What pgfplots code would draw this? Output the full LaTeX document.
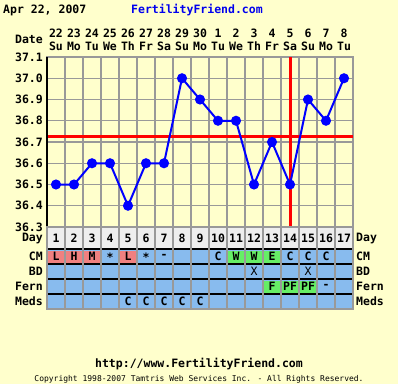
\documentclass[border=0pt]{standalone}
\usepackage{pgfplots}
\pgfplotsset{compat=1.18}
\usepackage{fontspec}
\newfontfamily\mono{DejaVu Sans Mono}
\definecolor{bg}{HTML}{FFFFCC}
\definecolor{gridc}{HTML}{999999}
\definecolor{dayrow}{HTML}{EEEEEE}
\definecolor{rowblue}{HTML}{88BBEE}
\definecolor{pinkc}{HTML}{F08080}
\definecolor{greenc}{HTML}{66EE66}
\definecolor{lineblue}{HTML}{0000FF}
\definecolor{titleblue}{HTML}{0000EE}
\newcommand{\bigf}{\mono\bfseries\fontsize{11.5bp}{12bp}\selectfont}
\newcommand{\smallf}{\mono\fontsize{8bp}{9bp}\selectfont}
\begin{document}
\begin{tikzpicture}
\fill[bg] (0,0) rectangle (398bp,-384bp);
% main temperature chart
\begin{axis}[at={(200bp,-142bp)}, anchor=center, scale only axis,
  width=306bp, height=170bp,
  xmin=0.5, xmax=17.5, ymin=36.3, ymax=37.1,
  xtick={1.5,2.5,3.5,4.5,5.5,6.5,7.5,8.5,9.5,10.5,11.5,12.5,13.5,14.5,15.5,16.5},
  xticklabels={},
  ytick={36.3,36.4,36.5,36.6,36.7,36.8,36.9,37.0,37.1},
  yticklabel style={font=\bigf, anchor=east, inner sep=0pt, xshift=-4bp,
    /pgf/number format/.cd, fixed, fixed zerofill, precision=1, assume math mode=true},
  grid=major, major grid style={gridc, line width=1.2bp},
  major tick length=0pt,
  axis line style={draw=gridc, line width=1.2bp},
  clip=false]
\addplot[red, line width=3bp] coordinates {(0.5,36.725) (17.5,36.725)};
\addplot[red, line width=3bp] coordinates {(14,36.3) (14,37.1)};
\addplot[lineblue, line width=2bp, mark=*, mark size=4bp, mark options={fill=lineblue}] coordinates {
(1,36.5) (2,36.5) (3,36.6) (4,36.6) (5,36.4) (6,36.6) (7,36.6) (8,37.0) (9,36.9)
(10,36.8) (11,36.8) (12,36.5) (13,36.7) (14,36.5) (15,36.9) (16,36.8) (17,37.0)};
\draw[black, line width=1.5bp] (axis cs:0.5,36.3) -- (axis cs:0.5,37.1);
\end{axis}
% right-hand labels
\begin{axis}[at={(200bp,-142bp)}, anchor=center, scale only axis,
  width=306bp, height=170bp,
  xmin=0.5, xmax=17.5, ymin=36.3, ymax=37.1,
  axis lines=none, xtick=\empty,
  ytick={36.3,36.4,36.5,36.6,36.7,36.8,36.9,37.0,37.1},
  yticklabel pos=right,
  yticklabel style={font=\bigf, anchor=west, inner sep=0pt, xshift=3bp,
    /pgf/number format/.cd, fixed, fixed zerofill, precision=1, assume math mode=true},
  major tick length=0pt]
\addplot[draw=none] coordinates {(1,36.5)};
\end{axis}
% table below
\begin{axis}[at={(200bp,-268bp)}, anchor=center, scale only axis,
  width=306bp, height=82bp,
  xmin=0.5, xmax=17.5, ymin=227, ymax=309, y dir=reverse,
  xtick={1.5,2.5,3.5,4.5,5.5,6.5,7.5,8.5,9.5,10.5,11.5,12.5,13.5,14.5,15.5,16.5},
  xticklabels={}, ytick=\empty,
  xmajorgrids, major grid style={gridc, line width=1.2bp},
  major tick length=0pt,
  axis line style={draw=gridc, line width=1.2bp},
  axis on top, clip=false]
\fill[dayrow] (axis cs:0.5,227) rectangle (axis cs:17.5,249);
\fill[rowblue] (axis cs:0.5,249) rectangle (axis cs:17.5,309);
% CM cells
\fill[pinkc] (axis cs:0.58,250.5) rectangle (axis cs:1.42,262.5);
\fill[pinkc] (axis cs:1.58,250.5) rectangle (axis cs:2.42,262.5);
\fill[pinkc] (axis cs:2.58,250.5) rectangle (axis cs:3.42,262.5);
\fill[pinkc] (axis cs:4.58,250.5) rectangle (axis cs:5.42,262.5);
\fill[greenc] (axis cs:10.58,250.5) rectangle (axis cs:11.42,262.5);
\fill[greenc] (axis cs:11.58,250.5) rectangle (axis cs:12.42,262.5);
\fill[greenc] (axis cs:12.58,250.5) rectangle (axis cs:13.42,262.5);
% Fern cells
\fill[greenc] (axis cs:12.58,280.5) rectangle (axis cs:13.42,292.5);
\fill[greenc] (axis cs:13.58,280.5) rectangle (axis cs:14.42,292.5);
\fill[greenc] (axis cs:14.58,280.5) rectangle (axis cs:15.42,292.5);
\draw[black, line width=1.5bp] (axis cs:0.5,249) -- (axis cs:17.5,249);
\draw[black, line width=1.5bp] (axis cs:0.5,264) -- (axis cs:17.5,264);
\draw[black, line width=1.5bp] (axis cs:0.5,279) -- (axis cs:17.5,279);
\draw[black, line width=1.5bp] (axis cs:0.5,294) -- (axis cs:17.5,294);
\draw[black, line width=1.5bp] (axis cs:0.5,309) -- (axis cs:17.5,309);
\draw[black, line width=1.5bp] (axis cs:0.5,227) -- (axis cs:0.5,309);
% day numbers
\pgfplotsinvokeforeach{1,...,17}{
  \node[font=\bigf, inner sep=0pt] at (axis cs:#1,238.5) {#1};
}
% CM text
\node[font=\bigf] at (axis cs:1,256.5) {L};
\node[font=\bigf] at (axis cs:2,256.5) {H};
\node[font=\bigf] at (axis cs:3,256.5) {M};
\node[font=\bigf] at (axis cs:4,257.5) {*};
\node[font=\bigf] at (axis cs:5,256.5) {L};
\node[font=\bigf] at (axis cs:6,257.5) {*};
\node[font=\bigf] at (axis cs:7,256.5) {-};
\node[font=\bigf] at (axis cs:10,256.5) {C};
\node[font=\bigf] at (axis cs:11,256.5) {W};
\node[font=\bigf] at (axis cs:12,256.5) {W};
\node[font=\bigf] at (axis cs:13,256.5) {E};
\node[font=\bigf] at (axis cs:14,256.5) {C};
\node[font=\bigf] at (axis cs:15,256.5) {C};
\node[font=\bigf] at (axis cs:16,256.5) {C};
% BD
\node[font=\mono\fontsize{11.5bp}{12bp}\selectfont] at (axis cs:12,271.5) {X};
\node[font=\mono\fontsize{11.5bp}{12bp}\selectfont] at (axis cs:15,271.5) {X};
% Fern
\node[font=\bigf] at (axis cs:13,286.5) {F};
\node[font=\bigf, inner sep=0pt] at (axis cs:14,286.5) {PF};
\node[font=\bigf, inner sep=0pt] at (axis cs:15,286.5) {PF};
\node[font=\bigf] at (axis cs:16,286.5) {-};
% Meds
\pgfplotsinvokeforeach{5,...,9}{
  \node[font=\bigf] at (axis cs:#1,301.5) {C};
}
\end{axis}
% texts
\begin{scope}[x=1bp, y=-1bp]
\node[font=\bigf, anchor=west, inner sep=0pt] at (3,10) {Apr 22, 2007};
\node[font=\bigf, text=titleblue, anchor=west, inner sep=0pt] at (131,10) {FertilityFriend.com};
\node[font=\bigf, anchor=east, inner sep=0pt] at (43,39.5) {Date};
\foreach \d/\w [count=\i] in {22/Su,23/Mo,24/Tu,25/We,26/Th,27/Fr,28/Sa,29/Su,30/Mo,1/Tu,2/We,3/Th,4/Fr,5/Sa,6/Su,7/Mo,8/Tu} {
  \node[font=\bigf, inner sep=0pt] at ({38+18*\i},33) {\d};
  \node[font=\bigf, inner sep=0pt] at ({38+18*\i},46) {\w};
}
\foreach \lab/\yy in {Day/238.5,CM/256.5,BD/271.5,Fern/286.5,Meds/301.5} {
  \node[font=\bigf, anchor=east, inner sep=0pt] at (43,\yy) {\lab};
  \node[font=\bigf, anchor=west, inner sep=0pt] at (356,\yy) {\lab};
}
\node[font=\bigf, inner sep=0pt] at (199,364) {http://www.FertilityFriend.com};
\node[font=\smallf, inner sep=0pt] at (199,379.5) {Copyright 1998-2007 Tamtris Web Services Inc. - All Rights Reserved.};
\end{scope}
\end{tikzpicture}
\end{document}
